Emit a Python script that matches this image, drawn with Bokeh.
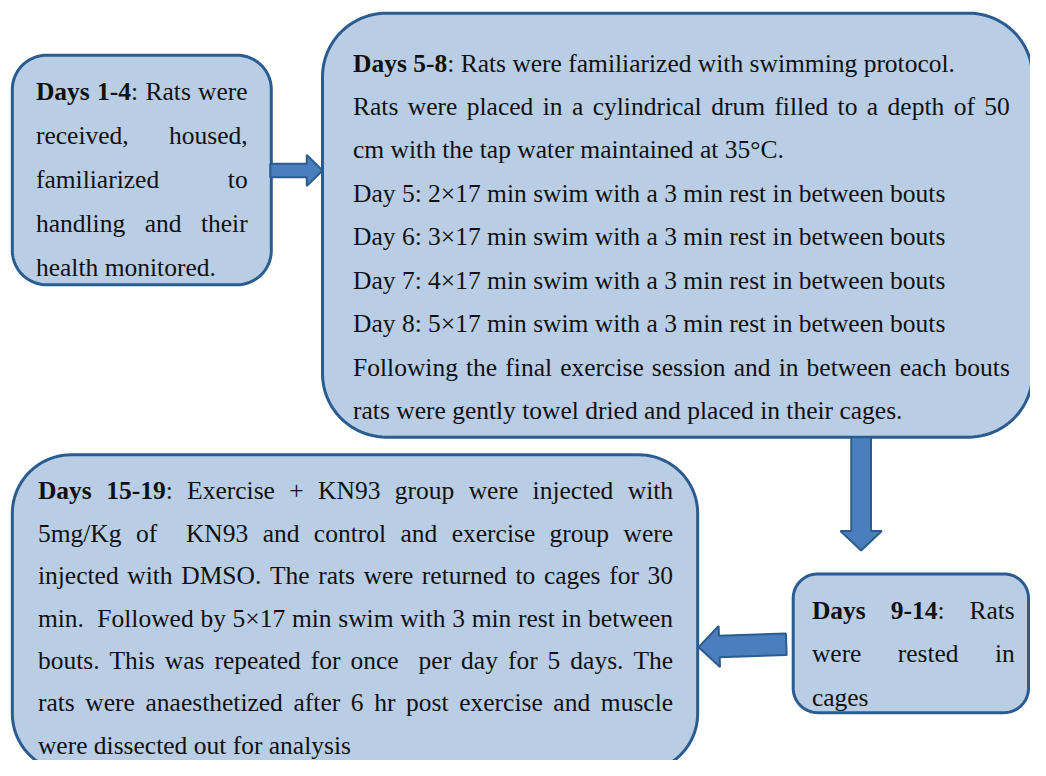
import numpy as np
from bokeh.plotting import figure
from bokeh.models import Range1d, ColumnDataSource
from bokeh.core.properties import value
from bokeh.embed import file_html
from bokeh.resources import INLINE

# ---------------- content ----------------
box1_lines = ["**Days 1-4**: Rats were", "received, housed,", "familiarized to",
              "handling and their", "health monitored."]
box1_justify = [True, True, True, True, False]

box2_lines = ["**Days 5-8**: Rats were familiarized with swimming protocol.",
              "Rats were placed in a cylindrical drum filled to a depth of 50",
              "cm with the tap water maintained at 35°C.",
              "Day 5: 2×17 min swim with a 3 min rest in between bouts",
              "Day 6: 3×17 min swim with a 3 min rest in between bouts",
              "Day 7: 4×17 min swim with a 3 min rest in between bouts",
              "Day 8: 5×17 min swim with a 3 min rest in between bouts",
              "Following the final exercise session and in between each bouts",
              "rats were gently towel dried and placed in their cages."]
box2_justify = [False, True, False, False, False, False, False, True, False]

box3_lines = ["**Days 9-14**: Rats", "were rested in", "cages"]
box3_justify = [True, True, False]

box4_lines = ["**Days 15-19**: Exercise + KN93 group were injected with",
              "5mg/Kg of  KN93 and control and exercise group were",
              "injected with DMSO. The rats were returned to cages for 30",
              "min.  Followed by 5×17 min swim with 3 min rest in between",
              "bouts. This was repeated for once  per day for 5 days. The",
              "rats were anaesthetized after 6 hr post exercise and muscle",
              "were dissected out for analysis"]
box4_justify = [True, True, True, True, True, True, False]

# ---------------- layout (image pixel coordinates) ----------------
box_left = [12, 327, 805, 12]
box_top = [56, 13, 587, 465]
box_right = [275, 1048, 1044, 708]
box_bottom = [291, 447, 729, 790]
box_radius = [35, 65, 25, 60]

text_left = [36, 358, 824, 38]
text_right = [251, 1025, 1030, 683]
first_baseline = [93, 64, 624, 502]
line_gap = [45, 44.5, 44.5, 43.4]

all_lines = [box1_lines, box2_lines, box3_lines, box4_lines]
all_justify = [box1_justify, box2_justify, box3_justify, box4_justify]

arrow_start = [(274, 174), (874, 447), (798, 659)]
arrow_tip = [(327, 174), (874, 563), (709, 662)]
arrow_head_len = [16, 20, 21]
arrow_shaft_half = [7, 10, 11]
arrow_head_half = [16, 21, 21]

FILL = "#B9CDE5"
BORDER = "#2B5C8F"
ARROW_FILL = "#4A7EBD"
FONT = "Liberation Serif"
FSIZE = 25.5

W, H = 1030, 760
X0, X1 = 0, 1046
Y0, Y1 = 0, 778
XS = (X1 - X0) / W  # data units per screen pixel

# Times / Liberation Serif advance widths (1/1000 em)
REG = {" ": 250, "!": 333, "+": 564, ",": 250, "-": 333, ".": 250, "/": 278, ":": 278,
       "×": 564, "°": 400,
       "A": 722, "B": 667, "C": 667, "D": 722, "E": 611, "F": 556, "G": 722, "H": 722,
       "I": 333, "J": 389, "K": 722, "L": 611, "M": 889, "N": 722, "O": 722, "P": 556,
       "Q": 722, "R": 667, "S": 556, "T": 611, "U": 722, "V": 722, "W": 944, "X": 722,
       "Y": 722, "Z": 611,
       "a": 444, "b": 500, "c": 444, "d": 500, "e": 444, "f": 333, "g": 500, "h": 500,
       "i": 278, "j": 278, "k": 500, "l": 278, "m": 778, "n": 500, "o": 500, "p": 500,
       "q": 500, "r": 333, "s": 389, "t": 278, "u": 500, "v": 500, "w": 722, "x": 500,
       "y": 500, "z": 444}
for d in "0123456789":
    REG[d] = 500
BOLD = dict(REG)
BOLD.update({":": 333, "D": 722, "a": 500, "y": 500, "s": 389})


def tw(s, bold):
    tab = BOLD if bold else REG
    return sum(tab.get(ch, 500) for ch in s) * FSIZE / 1000.0 * XS


def parse(line):
    chars = []
    bold = False
    i = 0
    while i < len(line):
        if line.startswith("**", i):
            bold = not bold
            i += 2
            continue
        chars.append((line[i], bold))
        i += 1
    return chars


def runs_of(chars):
    runs = []
    for ch, b in chars:
        if runs and runs[-1][1] == b:
            runs[-1][0] += ch
        else:
            runs.append([ch, b])
    return runs


reg_src = dict(x=[], y=[], t=[])
bold_src = dict(x=[], y=[], t=[])


def put(x, y, t, b):
    d = bold_src if b else reg_src
    d["x"].append(x)
    d["y"].append(y)
    d["t"].append(t)


for k, lines in enumerate(all_lines):
    for j, line in enumerate(lines):
        y = first_baseline[k] + j * line_gap[k]
        chars = parse(line)
        if not all_justify[k][j]:
            x = text_left[k]
            for t, b in runs_of(chars):
                put(x, y, t, b)
                x += tw(t, b)
            continue
        words, spaces = [], []
        cur, nsp = [], 0
        for ch, b in chars:
            if ch == " ":
                if cur:
                    words.append(cur)
                    spaces.append(nsp)
                    cur, nsp = [], 0
                nsp += 1
            else:
                cur.append((ch, b))
        if cur:
            words.append(cur)
            spaces.append(nsp)
        wwidths = [sum(tw(c, b) for c, b in w) for w in words]
        total_sp = sum(spaces[1:])
        sp_w = (text_right[k] - text_left[k] - sum(wwidths)) / max(total_sp, 1)
        x = text_left[k]
        for wi, w in enumerate(words):
            if wi > 0:
                x += spaces[wi] * sp_w
            xx = x
            for t, b in runs_of(w):
                put(xx, y, t, b)
                xx += tw(t, b)
            x += wwidths[wi]


def rrect(l, t, r, b, rad, n=24):
    xs, ys = [], []
    for cx, cy, a0 in [(r - rad, t + rad, -90), (r - rad, b - rad, 0),
                       (l + rad, b - rad, 90), (l + rad, t + rad, 180)]:
        for a in np.linspace(a0, a0 + 90, n):
            xs.append(cx + rad * np.cos(np.radians(a)))
            ys.append(cy + rad * np.sin(np.radians(a)))
    return xs, ys


def arrow(start, tip, head_len, sh, hh):
    sx, sy = start
    tx, ty = tip
    L = np.hypot(tx - sx, ty - sy)
    ux, uy = (tx - sx) / L, (ty - sy) / L
    px, py = -uy, ux
    bx, by = tx - ux * head_len, ty - uy * head_len
    pts = [(sx + px * sh, sy + py * sh), (bx + px * sh, by + py * sh),
           (bx + px * hh, by + py * hh), (tx, ty),
           (bx - px * hh, by - py * hh), (bx - px * sh, by - py * sh),
           (sx - px * sh, sy - py * sh)]
    return [q[0] for q in pts], [q[1] for q in pts]


p = figure(width=W, height=H, x_range=Range1d(X0, X1), y_range=Range1d(Y1, Y0),
           output_backend="svg", toolbar_location=None, min_border=0)
p.axis.visible = False
p.grid.visible = False
p.outline_line_color = None
p.background_fill_color = "white"
p.border_fill_color = "white"

bxs, bys = [], []
for i in range(len(box_left)):
    xs, ys = rrect(box_left[i], box_top[i], box_right[i], box_bottom[i], box_radius[i])
    bxs.append(xs)
    bys.append(ys)
p.patches(xs=bxs, ys=bys, fill_color=FILL, line_color=BORDER, line_width=3)

axs, ays = [], []
for i in range(len(arrow_start)):
    xs, ys = arrow(arrow_start[i], arrow_tip[i], arrow_head_len[i],
                   arrow_shaft_half[i], arrow_head_half[i])
    axs.append(xs)
    ays.append(ys)
p.patches(xs=axs, ys=ays, fill_color=ARROW_FILL, line_color=BORDER, line_width=2)

p.text(x="x", y="y", text="t", source=ColumnDataSource(reg_src),
       text_font=value(FONT), text_font_size=f"{FSIZE}px", text_color="#111111",
       text_baseline="alphabetic", text_align="left")
p.text(x="x", y="y", text="t", source=ColumnDataSource(bold_src),
       text_font=value(FONT), text_font_size=f"{FSIZE}px", text_color="#111111",
       text_font_style="bold", text_baseline="alphabetic", text_align="left")

open("out.html", "w").write(file_html(p, INLINE))
